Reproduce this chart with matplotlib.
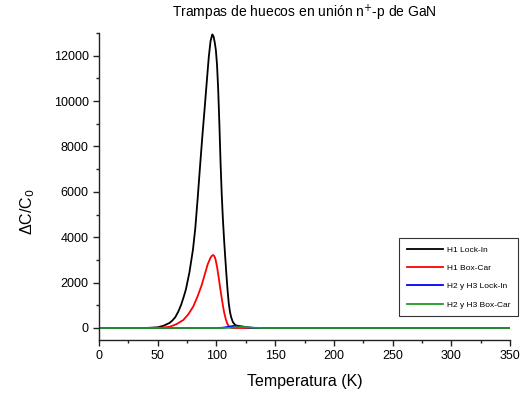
import matplotlib
matplotlib.use("Agg")
import matplotlib.pyplot as plt
from matplotlib.ticker import MultipleLocator

plt.rcParams['font.family'] = ['Liberation Sans', 'DejaVu Sans']

# Data
T_h1_lock = [0, 40, 50, 55, 60, 62.5, 65, 67.5, 70, 72, 74, 77, 80, 82, 84, 86, 88, 90, 92, 93.5, 95, 96.5, 97.5,
             98.5, 99.5, 100.5, 101.5, 102.5, 103.5, 104.5, 105.5, 106.5, 107.5, 108.5, 109.5,
             110.5, 111.5, 112.5, 114, 116, 120, 126, 135, 350]
V_h1_lock = [0, 0, 30, 100, 220, 330, 480, 720, 1030, 1350, 1700, 2450, 3450, 4400, 5700, 7100, 8450, 9700, 11000,
             11950, 12650, 12937, 12850, 12600, 12250, 11600, 10500, 9000, 7300, 5900, 4800, 3900,
             3100, 2350, 1650, 1080, 720, 480, 260, 130, 50, 10, 0, 0]

T_h1_box = [0, 45, 55, 60.5, 66, 71.8, 76, 80.3, 84, 87.5, 90, 92.5, 95, 96.3, 97.3, 98.3, 99.2,
            100.5, 102, 103.5, 105, 106.5, 108, 109.5, 111, 113, 350]
V_h1_box = [0, 0, 20, 57, 170, 352, 600, 950, 1400, 1900, 2350, 2800, 3100, 3190, 3215, 3160, 3030,
            2700, 2200, 1650, 1150, 700, 380, 160, 50, 0, 0]

T_h23_lock = [0, 100, 105, 110, 115, 118, 122, 126, 131, 140, 350]
V_h23_lock = [0, 0, 10, 50, 95, 100, 70, 30, 5, 0, 0]

T_h23_box = [0, 105, 112, 118, 122, 126, 132, 140, 350]
V_h23_box = [0, 0, 10, 35, 45, 35, 10, 0, 0]

labels = ['H1 Lock-In', 'H1 Box-Car', 'H2 y H3 Lock-In', 'H2 y H3 Box-Car']
colors = ['#000000', '#ff0000', '#0000ff', '#1f9a1f']

fig = plt.figure(figsize=(5.3, 3.95), dpi=100)
ax = fig.add_axes([0.1868, 0.1392, 0.9623 - 0.1868, 0.9165 - 0.1392])

series = [(T_h1_lock, V_h1_lock), (T_h1_box, V_h1_box), (T_h23_lock, V_h23_lock), (T_h23_box, V_h23_box)]
for (t, v), lab, c in zip(series, labels, colors):
    ax.plot(t, v, color=c, lw=1.3, label=lab, solid_joinstyle='round')

ax.set_xlim(0, 350)
ax.set_ylim(-530, 13000)
ax.xaxis.set_major_locator(MultipleLocator(50))
ax.xaxis.set_minor_locator(MultipleLocator(25))
ax.yaxis.set_major_locator(MultipleLocator(2000))
ax.yaxis.set_minor_locator(MultipleLocator(1000))

for s in ['top', 'right']:
    ax.spines[s].set_visible(False)
for s in ['left', 'bottom']:
    ax.spines[s].set_color('#222222')
    ax.spines[s].set_linewidth(1.0)

ax.tick_params(which='major', direction='out', length=4, width=1.0, color='#222222', labelsize=9, pad=3.5)
ax.tick_params(which='minor', direction='out', length=2.5, width=1.0, color='#222222')

ax.set_title('Trampas de huecos en unión n$^{+}$-p de GaN', fontsize=10, pad=11)
ax.set_xlabel('Temperatura (K)', fontsize=11.5, labelpad=8)
ax.set_ylabel('ΔC/C$_0$', fontsize=11.5)
ax.yaxis.set_label_coords(-0.15, 0.417)

leg = ax.legend(loc='lower right', bbox_to_anchor=(1.019, 0.078), fontsize=6,
                handlelength=4.4, handletextpad=0.4, labelspacing=1.25,
                frameon=True, fancybox=False, borderpad=0.9, borderaxespad=0)
leg.get_frame().set_edgecolor('#000000')
leg.get_frame().set_linewidth(0.8)

fig.savefig('out.png', dpi=100)
